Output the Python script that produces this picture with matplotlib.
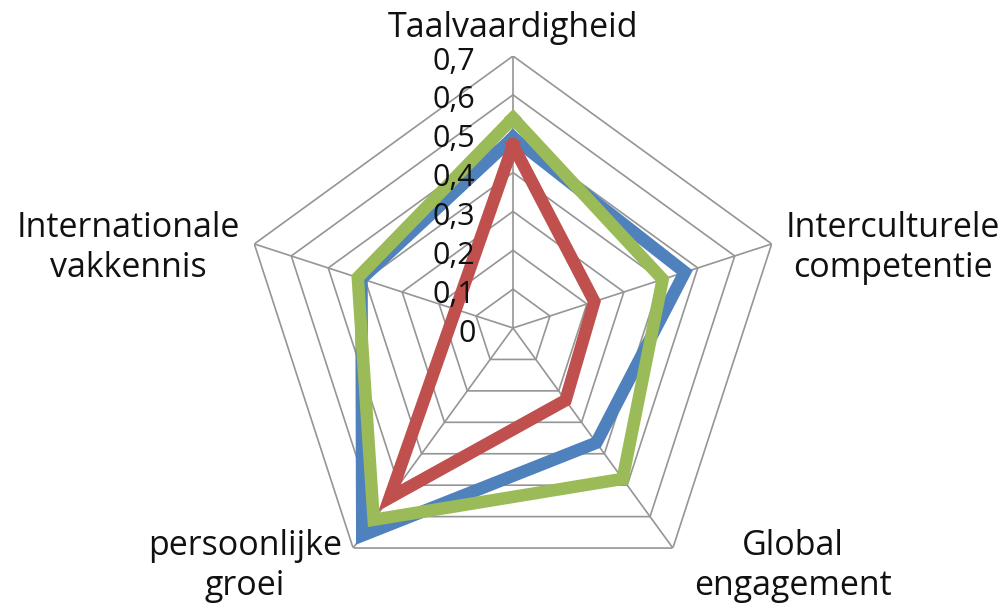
import numpy as np
import matplotlib
matplotlib.use("Agg")
import matplotlib.pyplot as plt

categories = ["Taalvaardigheid", "Interculturele\ncompetentie", "Global\nengagement",
              "persoonlijke\ngroei", "Internationale\nvakkennis"]
series_blue = [0.49, 0.465, 0.365, 0.66, 0.41]
series_red = [0.47, 0.22, 0.23, 0.54, 0.155]
series_green = [0.54, 0.405, 0.48, 0.61, 0.42]
tick_values = [0, 0.1, 0.2, 0.3, 0.4, 0.5, 0.6, 0.7]
tick_labels = ["0", "0,1", "0,2", "0,3", "0,4", "0,5", "0,6", "0,7"]

plt.rcParams['font.family'] = ['Open Sans', 'DejaVu Sans']

W, H = 1008, 608
fig = plt.figure(figsize=(W / 100, H / 100), dpi=100)
cx, cy, R = 513, 328, 272
ax = fig.add_axes([(cx - R) / W, (H - cy - R) / H, 2 * R / W, 2 * R / H], projection='polar')
ax.set_theta_zero_location('N')
ax.set_theta_direction(-1)
ax.set_ylim(0, 0.7)
ax.axis('off')

n = len(categories)
angles = np.linspace(0, 2 * np.pi, n, endpoint=False)
ang_closed = np.concatenate([angles, angles[:1]])

grid_col = '#959595'
for tv in tick_values[1:]:
    ax.plot(ang_closed, [tv] * (n + 1), color=grid_col, lw=1.2, zorder=1)
for a in angles:
    ax.plot([a, a], [0, tick_values[-1]], color=grid_col, lw=1.2, zorder=1)

for vals, col in [(series_blue, '#4f81bd'), (series_red, '#c0504d'), (series_green, '#9bbb59')]:
    v = list(vals) + [vals[0]]
    ax.plot(ang_closed, v, color=col, lw=9, solid_joinstyle='miter', zorder=3)

for tv, tl in zip(tick_values, tick_labels):
    ax.annotate(tl, xy=(0, tv), xytext=(-27, -4), textcoords='offset points',
                ha='right', va='center', fontsize=22, color='#111111', zorder=5)

label_pos = [(513, 28), (893, 248), (793, 566), (245, 566), (128, 248)]
for lab, (px, py) in zip(categories, label_pos):
    fig.text(px / W, 1 - py / H, lab, ha='center', va='center', fontsize=24.5,
             color='#111111', linespacing=1.25)

fig.savefig('out.png', dpi=100, facecolor='white')
